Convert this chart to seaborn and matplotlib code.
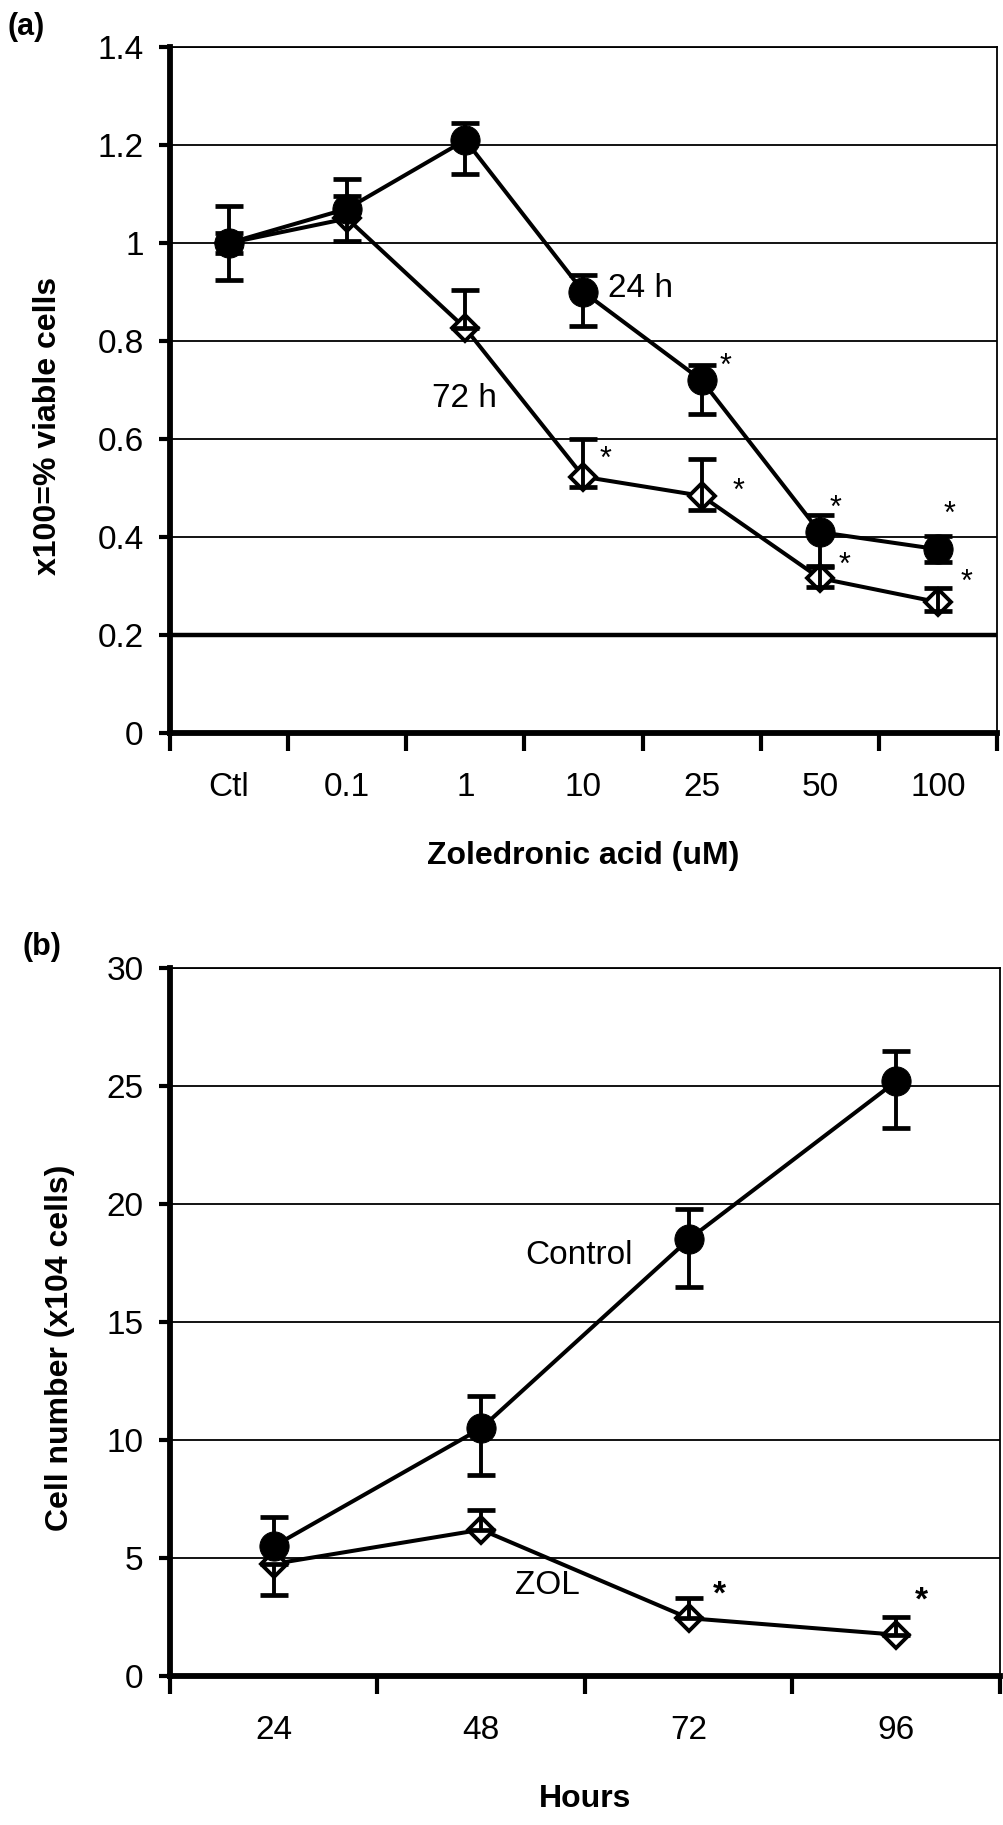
import numpy as np
import pandas as pd
import matplotlib
matplotlib.use("Agg")
import matplotlib.pyplot as plt
import seaborn as sns

# ---------------- data: panel (a) ----------------
conc_labels = ["Ctl", "0.1", "1", "10", "25", "50", "100"]
via_24h = [1.00, 1.07, 1.21, 0.90, 0.72, 0.41, 0.375]
via_24h_hi = [0.075, 0.06, 0.035, 0.035, 0.03, 0.035, 0.027]
via_24h_lo = [0.075, 0.0, 0.07, 0.07, 0.07, 0.07, 0.027]
via_72h = [1.00, 1.05, 0.826, 0.523, 0.484, 0.316, 0.267]
via_72h_hi = [0.02, 0.045, 0.078, 0.077, 0.075, 0.023, 0.029]
via_72h_lo = [0.02, 0.045, 0.0, 0.021, 0.029, 0.018, 0.018]
a_yticks = [0, 0.2, 0.4, 0.6, 0.8, 1, 1.2, 1.4]
a_ytick_labels = ["0", "0.2", "0.4", "0.6", "0.8", "1", "1.2", "1.4"]
a_stars = [(4.20, 0.748), (3.19, 0.558), (4.31, 0.493), (5.13, 0.458),
           (5.21, 0.342), (6.10, 0.446), (6.24, 0.307)]

# ---------------- data: panel (b) ----------------
hour_labels = ["24", "48", "72", "96"]
cells_ctrl = [5.5, 10.5, 18.5, 25.2]
cells_ctrl_hi = [1.25, 1.35, 1.3, 1.3]
cells_ctrl_lo = [0.0, 2.0, 2.0, 2.0]
cells_zol = [4.75, 6.2, 2.45, 1.75]
cells_zol_hi = [0.0, 0.85, 0.85, 0.75]
cells_zol_lo = [1.3, 0.0, 0.0, 0.0]
b_yticks = [0, 5, 10, 15, 20, 25, 30]
b_ytick_labels = ["0", "5", "10", "15", "20", "25", "30"]
b_stars = [(2.15, 3.45), (3.12, 3.18)]

sns.set_theme(style="white")
plt.rcParams["font.family"] = ["Liberation Sans", "DejaVu Sans"]
plt.rcParams.update({"text.color": "black", "axes.labelcolor": "black",
                     "xtick.color": "black", "ytick.color": "black"})

W, H = 1004, 1825
fig = plt.figure(figsize=(W / 100, H / 100), dpi=100)
axA = fig.add_axes([170 / W, 1 - 733 / H, 827 / W, 686 / H])
axB = fig.add_axes([170 / W, 1 - 1676 / H, 830 / W, 708 / H])

LW = 2.9


def draw_series(ax, df, col, marker, filled):
    kw = dict(color="black", linewidth=LW, marker=marker)
    if filled:
        kw.update(markersize=21, markerfacecolor="black", markeredgecolor="black")
    else:
        kw.update(markersize=13.5, markerfacecolor="white", markeredgecolor="black",
                  markeredgewidth=2.8)
    sns.lineplot(data=df, x="pos", y=col, ax=ax, legend=False, **kw)


def draw_err(ax, x, y, lo, hi):
    ax.errorbar(x, y, yerr=[lo, hi], fmt="none", ecolor="black",
                elinewidth=2.8, capsize=10, capthick=3.4, zorder=5)


def style_axes(ax, labels, yticks, ytick_labels, ymax):
    n = len(labels)
    ax.set_xlim(-0.5, n - 0.5)
    ax.set_ylim(0, ymax)
    ax.set_yticks(yticks)
    ax.set_yticklabels(ytick_labels)
    ax.set_xticks(np.arange(n + 1) - 0.5)
    ax.set_xticklabels([""] * (n + 1))
    ax.set_xticks(np.arange(n), minor=True)
    ax.set_xticklabels(labels, minor=True)
    ax.tick_params(axis="x", which="major", direction="out", length=13, width=3,
                   color="black", bottom=True)
    ax.tick_params(axis="x", which="minor", length=0, pad=28, labelsize=24,
                   bottom=True, labelcolor="black")
    ax.tick_params(axis="y", direction="out", length=8, width=3, color="black",
                   pad=11, labelsize=24, left=True, labelcolor="black")
    ax.yaxis.grid(True, color="black", linewidth=1.3)
    ax.xaxis.grid(False)
    ax.set_axisbelow(True)
    for s in ("left", "bottom"):
        ax.spines[s].set_linewidth(4.2)
        ax.spines[s].set_color("black")
    for s in ("right", "top"):
        ax.spines[s].set_linewidth(1.3)
        ax.spines[s].set_color("black")


# ---------------- panel (a) ----------------
dfA = pd.DataFrame({"pos": np.arange(len(conc_labels)), "h24": via_24h, "h72": via_72h})
draw_series(axA, dfA, "h72", "D", False)
draw_series(axA, dfA, "h24", "o", True)
draw_err(axA, dfA["pos"], via_72h, via_72h_lo, via_72h_hi)
draw_err(axA, dfA["pos"], via_24h, via_24h_lo, via_24h_hi)
style_axes(axA, conc_labels, a_yticks, a_ytick_labels, 1.4)
axA.get_ygridlines()[1].set_linewidth(3.2)
axA.set_xlabel("Zoledronic acid (uM)", fontsize=23, fontweight="bold", color="black")
axA.xaxis.set_label_coords(0.5, -0.158)
axA.set_ylabel("x100=% viable cells", fontsize=23, fontweight="bold", va="center",
               color="black")
axA.yaxis.set_label_coords(-0.147, 0.4475)
axA.text(3.48, 0.908, "24 h", fontsize=24, ha="center", va="center", color="black")
axA.text(1.99, 0.682, "72 h", fontsize=24, ha="center", va="center", color="black")
for sx, sy in a_stars:
    axA.text(sx, sy, "*", fontsize=22, ha="center", va="center", color="black")
fig.text(26 / W, 1 - 27 / H, "(a)", fontsize=22, fontweight="bold", ha="center",
         va="center", color="black")

# ---------------- panel (b) ----------------
dfB = pd.DataFrame({"pos": np.arange(len(hour_labels)), "ctrl": cells_ctrl, "zol": cells_zol})
draw_series(axB, dfB, "zol", "D", False)
draw_series(axB, dfB, "ctrl", "o", True)
draw_err(axB, dfB["pos"], cells_zol, cells_zol_lo, cells_zol_hi)
draw_err(axB, dfB["pos"], cells_ctrl, cells_ctrl_lo, cells_ctrl_hi)
style_axes(axB, hour_labels, b_yticks, b_ytick_labels, 30)
axB.set_xlabel("Hours", fontsize=23, fontweight="bold", color="black")
axB.xaxis.set_label_coords(0.5, -0.152)
axB.set_ylabel("Cell number (x104 cells)", fontsize=23, fontweight="bold", va="center",
               color="black")
axB.yaxis.set_label_coords(-0.1325, 0.463)
axB.text(1.47, 17.8, "Control", fontsize=24, ha="center", va="center", color="black")
axB.text(1.32, 3.84, "ZOL", fontsize=24, ha="center", va="center", color="black")
for sx, sy in b_stars:
    axB.text(sx, sy, "*", fontsize=24, fontweight="bold", ha="center", va="center",
             color="black")
fig.text(42 / W, 1 - 947 / H, "(b)", fontsize=22, fontweight="bold", ha="center",
         va="center", color="black")

fig.savefig("out.png", dpi=100, facecolor="white")
